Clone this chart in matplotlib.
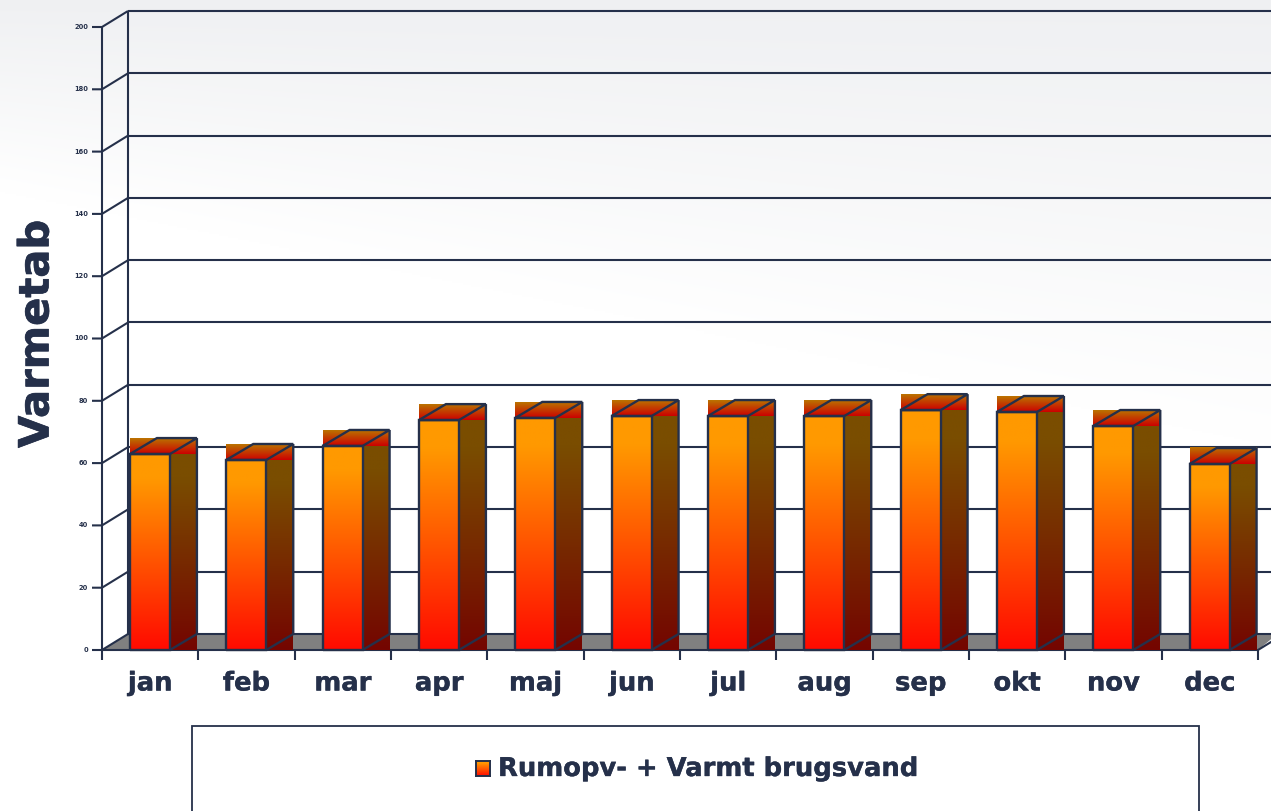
import numpy as np
import matplotlib
matplotlib.use("Agg")
import matplotlib.pyplot as plt
import matplotlib.patheffects as pe
from matplotlib.colors import LinearSegmentedColormap
from matplotlib.patches import Polygon, Rectangle

months = ["jan", "feb", "mar", "apr", "maj", "jun", "jul", "aug", "sep", "okt", "nov", "dec"]
values = [62.9, 61.0, 65.5, 73.8, 74.5, 75.1, 75.1, 75.1, 77.0, 76.4, 71.9, 59.7]
y_ticks = [0, 20, 40, 60, 80, 100, 120, 140, 160, 180, 200]
y_title = "Varmetab"
series_name = "Rumopv- + Varmt brugsvand"

W, H = 1271, 811
NAVY = "#25304a"
LW = 1.5
BAR_LW = 1.7
plt.rcParams["font.family"] = ["DejaVu Sans"]

fig = plt.figure(figsize=(W / 100, H / 100), dpi=100, facecolor="white")


def heavy(width):
    return [pe.withStroke(linewidth=width, foreground=NAVY)]


# page background: soft diagonal fade from pale grey to white
bg = fig.add_axes([0, 0, 1, 1], zorder=0)
bg.axis("off")
yy, xx = np.mgrid[0:H:400j, 0:W:600j]
fade = np.clip(yy / (190 + 0.2 * xx), 0, 1)[..., None]
top_col = np.array([0.938, 0.942, 0.950])
shade = top_col + (1 - top_col) * fade
bg.imshow(shade, extent=(0, 1, 0, 1), origin="upper", aspect="auto", interpolation="bilinear")
bg.set_xlim(0, 1)
bg.set_ylim(0, 1)

# plot axes: front plane spans 102..1258 px horizontally and 650..27 px vertically
ax = fig.add_axes([102 / W, 1 - 650 / H, 1156 / W, 623 / H], zorder=1)
ax.set_xlim(0, len(months))
ax.set_ylim(0, 200)
ax.patch.set_visible(False)
for s in ax.spines.values():
    s.set_visible(False)
ax.set_xticks([])
ax.set_yticks([])

PX = 1156 / 12
PY = 623 / 200
DX = 26 / PX
BDX = 27 / PX
DY = 16 / PY
BAR_L, BAR_R = 0.29, 0.705
XEND = len(months) + 0.2

cm_front = LinearSegmentedColormap.from_list(
    "front", [(0, "#ff9900"), (0.12, "#ff9900"), (1, "#ff0a00")])
cm_side = LinearSegmentedColormap.from_list(
    "side", [(0, "#7a4d00"), (0.12, "#7a4d00"), (1, "#740500")])
cm_top = LinearSegmentedColormap.from_list("top", ["#bb7400", "#cc0000"])
ramp = np.linspace(0, 1, 256).reshape(-1, 1)


def grad(cmap, x0, x1, y0, y1, z):
    ax.imshow(ramp, cmap=cmap, extent=(x0, x1, y0, y1), origin="upper",
              aspect="auto", zorder=z, clip_on=False, interpolation="bilinear")


def line(x, y, z=2, lw=LW):
    ax.plot(x, y, color=NAVY, lw=lw, zorder=z, clip_on=False, solid_capstyle="butt",
            solid_joinstyle="miter")


# floor
ax.add_patch(Polygon([(0, 0), (DX, DY), (XEND, DY), (len(months), 0)], closed=True,
                     facecolor="#808080", edgecolor="none", zorder=1.5, clip_on=False))
# walls and grid
line([0, 0], [0, 200])
line([DX, DX], [DY, 200 + DY])
for v in y_ticks:
    line([-10 / PX, 0, DX], [v, v, v + DY])
    line([DX, XEND], [v + DY, v + DY])
    ax.text(-14 / PX, v, str(v), ha="right", va="center", fontsize=4.8, fontweight="bold",
            color=NAVY, clip_on=False, zorder=5)
line([0, len(months)], [0, 0], z=2.5)
line([len(months), XEND], [0, (XEND - len(months)) / DX * DY], z=2.5)

# bars
for i, (m, v) in enumerate(zip(months, values)):
    l, r = i + BAR_L, i + BAR_R
    grad(cm_side, r, r + BDX, 0, v, 3)
    grad(cm_top, l, r + BDX, v, v + DY, 3)
    grad(cm_front, l, r, 0, v, 3)
    line([l, l, r, r, l], [0, v, v, 0, 0], z=4, lw=BAR_LW)
    line([l, l + BDX, r + BDX, r, l], [v, v + DY, v + DY, v, v], z=4, lw=BAR_LW)
    line([r + BDX, r + BDX, r], [v + DY, DY, 0], z=4, lw=BAR_LW)
    line([i, i], [0, -10 / PY], z=4)
    ax.text(i + 0.5, -33.5 / PY, m, ha="center", va="center", fontsize=18.6, fontweight="bold",
            color=NAVY, clip_on=False, path_effects=heavy(0.25))
line([len(months)] * 2, [0, -10 / PY], z=4)

ax.set_xlim(0, len(months))
ax.set_ylim(0, 200)

fig.text(36.5 / W, 1 - 334 / H, y_title, rotation=90, ha="center", va="center",
         fontsize=30, fontweight="bold", color=NAVY, path_effects=heavy(0.5))

# legend box
fig.add_artist(Rectangle((192 / W, -0.02), 1007 / W, 1 - 726 / H + 0.02, transform=fig.transFigure,
                         facecolor="white", edgecolor=NAVY, lw=1.3, zorder=6))
leg = fig.add_axes([476 / W, 1 - 776 / H, 14 / W, 15 / H], zorder=7)
leg.imshow(ramp, cmap=cm_front, aspect="auto")
leg.set_xticks([])
leg.set_yticks([])
for s in leg.spines.values():
    s.set_color(NAVY)
    s.set_linewidth(1.4)
fig.text(498 / W, 1 - 769 / H, series_name, ha="left", va="center", fontsize=18.6,
         fontweight="bold", color=NAVY, zorder=8, path_effects=heavy(0.25))

fig.savefig("out.png", dpi=100)
